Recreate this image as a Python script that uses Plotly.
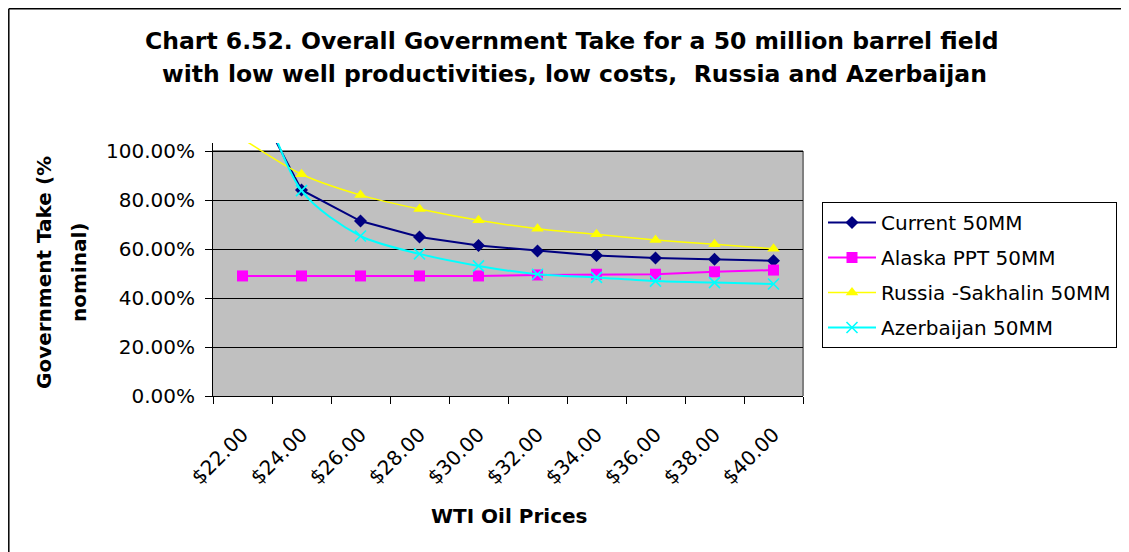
import plotly.graph_objects as go

# ---- data (values in percent) ----
prices = ["$22.00", "$24.00", "$26.00", "$28.00", "$30.00",
          "$32.00", "$34.00", "$36.00", "$38.00", "$40.00"]
current_50mm = [130.0, 84.1, 71.4, 64.9, 61.4, 59.2, 57.3, 56.3, 55.8, 55.2]
alaska_ppt_50mm = [49.0, 49.0, 49.0, 49.0, 49.0, 49.4, 49.7, 49.7, 50.7, 51.4]
russia_sakhalin_50mm = [105.0, 90.5, 82.0, 76.3, 71.7, 68.3, 66.0, 63.7, 61.9, 60.1]
azerbaijan_50mm = [145.0, 83.8, 65.3, 58.0, 53.1, 49.7, 48.4, 46.9, 46.3, 45.7]
y_ticks = [0, 20, 40, 60, 80, 100]

FONT = "DejaVu Sans"
OFF = 8  # default page margin of the html body
W, H = 1129 - OFF, 552 - OFF
# plot area in page pixels: x 213..803, y 143..396
L, T = 213 - OFF, 143 - OFF
R = W - (803 - OFF)
B = H - (396 - OFF)
plot_w = W - L - R
plot_h = H - T - B
y_top = 100 * plot_h / 245.0  # percent value at the top of the drawing area


def px_x(px):
    return (px - OFF - L) / plot_w


def px_y(py):
    return (H - B - (py - OFF)) / plot_h


fig = go.Figure()

series = [
    ("Current 50MM", current_50mm, "#000080", "diamond", 10, "linear", 2),
    ("Alaska PPT 50MM", alaska_ppt_50mm, "#FF00FF", "square", 11, "linear", 2),
    ("Russia -Sakhalin 50MM", russia_sakhalin_50mm, "#FFFF00", "triangle-up", 11, "spline", 1.5),
    ("Azerbaijan 50MM", azerbaijan_50mm, "#00FFFF", "x-thin", 11, "spline", 2),
]
for name, vals, color, sym, size, shape, lw in series:
    marker = dict(symbol=sym, size=size, color=color,
                  line=dict(color=color, width=1.6 if sym == "x-thin" else 0))
    fig.add_trace(go.Scatter(
        x=prices, y=[v / 100 for v in vals], name=name, mode="lines+markers",
        line=dict(color=color, width=lw, shape=shape, smoothing=0.8),
        marker=marker, legendgroup=name,
    ))

shapes = [
    dict(type="rect", xref="paper", yref="y", x0=0, x1=1, y0=0, y1=1.0,
         fillcolor="#C0C0C0", line=dict(width=0), layer="below"),
    dict(type="line", xref="paper", yref="y", x0=0, x1=1, y0=1.0, y1=1.0,
         line=dict(color="#808080", width=2), layer="between"),
    dict(type="line", xref="paper", yref="y", x0=1, x1=1, y0=0, y1=1.0,
         line=dict(color="#808080", width=2), layer="between"),
    # outer chart border (left and top)
    dict(type="line", xref="paper", yref="paper", x0=px_x(8.8), x1=px_x(8.8),
         y0=px_y(560), y1=px_y(8.8), line=dict(color="black", width=1.5)),
    dict(type="line", xref="paper", yref="paper", x0=px_x(8.8), x1=px_x(1135),
         y0=px_y(8.8), y1=px_y(8.8), line=dict(color="black", width=1.5)),
]

annotations = [
    dict(text="Chart 6.52. Overall Government Take for a 50 million barrel field",
         xref="paper", yref="paper", x=px_x(572), y=px_y(41), xanchor="center",
         yanchor="middle", showarrow=False,
         font=dict(family=FONT, size=23.5, color="black", weight="bold")),
    dict(text="with low well productivities, low costs,\u00a0 Russia and Azerbaijan",
         xref="paper", yref="paper", x=px_x(574), y=px_y(74), xanchor="center",
         yanchor="middle", showarrow=False,
         font=dict(family=FONT, size=23.5, color="black", weight="bold")),
    dict(text="Government Take (%", xref="paper", yref="paper", x=px_x(44),
         y=px_y(273), textangle=-90, xanchor="center", yanchor="middle",
         showarrow=False, font=dict(family=FONT, size=20, color="black", weight="bold")),
    dict(text="nominal)", xref="paper", yref="paper", x=px_x(79),
         y=px_y(273), textangle=-90, xanchor="center", yanchor="middle",
         showarrow=False, font=dict(family=FONT, size=20, color="black", weight="bold")),
    dict(text="WTI Oil Prices", xref="paper", yref="paper", x=px_x(509),
         y=px_y(516), xanchor="center", yanchor="middle", showarrow=False,
         font=dict(family=FONT, size=20, color="black", weight="bold")),
]

fig.update_layout(
    width=W, height=H, autosize=False,
    margin=dict(l=L, r=R, t=T, b=B, pad=0),
    paper_bgcolor="white", plot_bgcolor="white",
    font=dict(family=FONT, size=20, color="black"),
    shapes=shapes, annotations=annotations,
    showlegend=True,
    legend=dict(x=px_x(822), y=px_y(202), xanchor="left", yanchor="top",
                bgcolor="white", bordercolor="black", borderwidth=1,
                font=dict(family=FONT, size=20, color="black"),
                tracegroupgap=6, itemwidth=48),
    xaxis=dict(type="category", range=[-0.5, len(prices) - 0.5],
               tickson="boundaries", ticks="outside", ticklen=7,
               tickcolor="black", showline=True, linecolor="black",
               linewidth=1, showgrid=False, zeroline=False, tickangle=-45,
               tickfont=dict(family=FONT, size=20, color="black"),
               ticklabelstandoff=18),
    yaxis=dict(range=[0, y_top / 100], tickvals=[t / 100 for t in y_ticks],
               tickformat=".2%", ticks="outside", ticklen=7, tickcolor="black",
               showline=True, linecolor="black", linewidth=1,
               showgrid=True, gridcolor="black", gridwidth=1, zeroline=False,
               tickfont=dict(family=FONT, size=20, color="black"),
               ticklabelstandoff=6),
)

fig.write_html("out.html")
